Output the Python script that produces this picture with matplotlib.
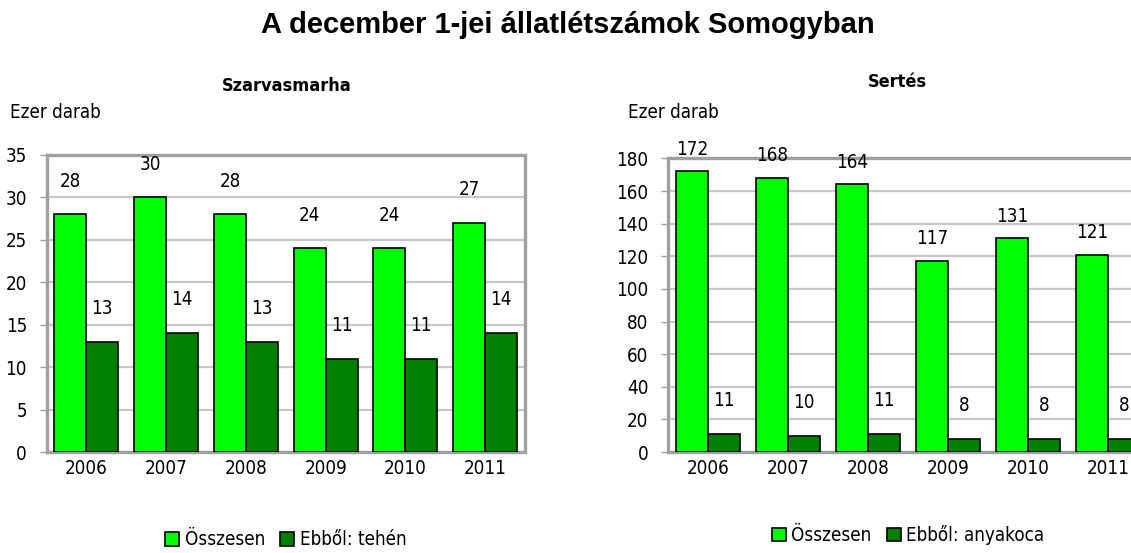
import numpy as np
import matplotlib
matplotlib.use('Agg')
import matplotlib.pyplot as plt

# adatok
years = ['2006', '2007', '2008', '2009', '2010', '2011']
szarvas_ossz = [28, 30, 28, 24, 24, 27]
szarvas_teh = [13, 14, 13, 11, 11, 14]
sertes_ossz = [172, 168, 164, 117, 131, 121]
sertes_koca = [11, 10, 11, 8, 8, 8]

plt.rcParams['font.family'] = ['DejaVu Sans']
plt.rcParams['font.stretch'] = 'condensed'
plt.rcParams['font.size'] = 13.5

light = '#00ff00'
dark = '#008000'
frame = '#a0a0a0'
gridc = '#c8c8c8'

W, H = 1131, 553
fig = plt.figure(figsize=(W / 100, H / 100), dpi=100)


def px(x0, y_top, x1, y_bot):
    return [x0 / W, 1 - y_bot / H, (x1 - x0) / W, (y_bot - y_top) / H]


def panel(rect, a, b, labels, ymax, ystep, off_a, off_b, leg_y):
    ax = fig.add_axes(rect)
    x = np.arange(len(years))
    w = 0.4
    ba = ax.bar(x - w / 2, a, w, color=light, edgecolor='black', linewidth=1.2, label=labels[0], zorder=3)
    bb = ax.bar(x + w / 2, b, w, color=dark, edgecolor='black', linewidth=1.2, label=labels[1], zorder=3)
    for bars, vals, off in ((ba, a, off_a), (bb, b, off_b)):
        for r, v in zip(bars, vals):
            ax.annotate(str(v), (r.get_x() + r.get_width() / 2, v), xytext=(0, off),
                        textcoords='offset points', ha='center', va='center', fontsize=13.5)
    ax.set_xlim(-0.5, len(years) - 0.5)
    ax.set_ylim(0, ymax)
    ax.set_yticks(np.arange(0, ymax + 1, ystep))
    ax.set_xticks(x)
    ax.set_xticklabels(years)
    ax.yaxis.grid(True, color=gridc, linewidth=1.6, zorder=0)
    ax.set_axisbelow(True)
    for s in ax.spines.values():
        s.set_color(frame)
        s.set_linewidth(2.4)
    ax.tick_params(axis='y', length=5, color=frame, width=1, pad=9)
    ax.tick_params(axis='x', length=0, pad=5)
    ax.legend(loc='center', bbox_to_anchor=(0.5, leg_y), ncol=2, frameon=False,
              handlelength=0.75, handleheight=0.75, handletextpad=0.3, columnspacing=0.8,
              fontsize=13.5)
    return ax


ax1 = panel(px(46.5, 155, 525, 452), szarvas_ossz, szarvas_teh,
            ['Összesen', 'Ebből: tehén'], 35, 5, 24, 24, -0.296)
ax2 = panel(px(668, 158.4, 1148, 452), sertes_ossz, sertes_koca,
            ['Összesen', 'Ebből: anyakoca'], 180, 20, 16, 24, -0.283)

fig.text(568 / W, 1 - 25 / H, 'A december 1-jei állatlétszámok Somogyban',
         ha='center', va='center', fontsize=21, fontweight='bold',
         family=['Liberation Sans', 'DejaVu Sans'], fontstretch='normal')
fig.text(287 / W, 1 - 86 / H, 'Szarvasmarha', ha='center', va='center',
         fontsize=13, fontweight='bold')
fig.text(897 / W, 1 - 82 / H, 'Sertés', ha='center', va='center',
         fontsize=13, fontweight='bold')
fig.text(10 / W, 1 - 112 / H, 'Ezer darab', ha='left', va='center', fontsize=13.5)
fig.text(628 / W, 1 - 113 / H, 'Ezer darab', ha='left', va='center', fontsize=13.5)

fig.savefig('out.png', dpi=100)
